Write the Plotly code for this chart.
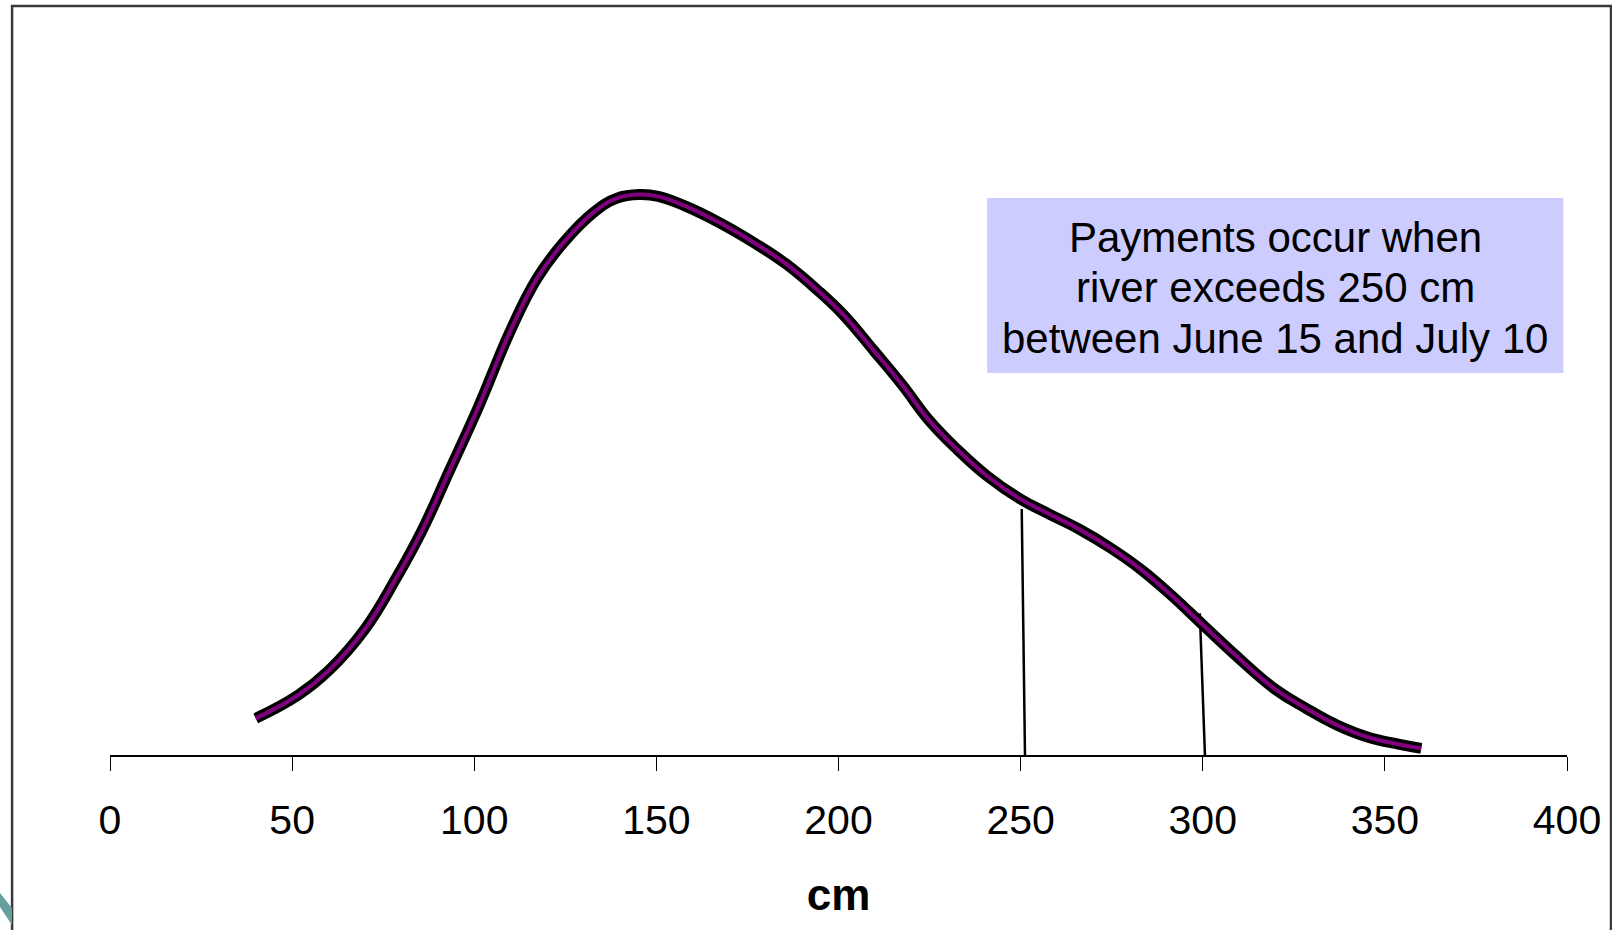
import plotly.graph_objects as go

# Curve (river level distribution)
curve_x = [40, 51.7, 60.1, 70, 78.5, 85.5, 93.2, 101, 110, 117.2, 124.5, 132.7, 139.2, 145.4,
           150.5, 157.5, 167.4, 177.3, 185.7, 194.2, 201.3, 209.7, 217.6, 224.7, 232.3, 240.8,
           250.1, 257.7, 266.2, 274.7, 283.1, 291.6, 300, 308.5, 319.8, 328.3, 336.8, 345.2,
           353.7, 360]
curve_y = [0.061, 0.100, 0.141, 0.21, 0.294, 0.372, 0.474, 0.578, 0.708, 0.794, 0.854, 0.904,
           0.928, 0.934, 0.931, 0.916, 0.887, 0.852, 0.818, 0.775, 0.734, 0.674, 0.616, 0.559,
           0.511, 0.465, 0.426, 0.402, 0.376, 0.345, 0.309, 0.265, 0.217, 0.169, 0.110, 0.078,
           0.050, 0.030, 0.018, 0.011]

# Vertical marker lines (x bottom/top, y top)
line1_x = [251.2, 250.3]
line1_y = [0.0, 0.41]
line2_x = [300.6, 299.2]
line2_y = [0.0, 0.236]

tick_vals = [0, 50, 100, 150, 200, 250, 300, 350, 400]
tick_text = ["0", "50", "100", "150", "200", "250", "300", "350", "400"]

note_lines = ["Payments occur when", "river exceeds 250 cm", "between June 15 and July 10"]

FONT = "Liberation Sans, Arial, sans-serif"

fig = go.Figure()
fig.add_trace(go.Scatter(x=line1_x, y=line1_y, mode="lines",
                         line=dict(color="black", width=2.5), hoverinfo="skip", showlegend=False))
fig.add_trace(go.Scatter(x=line2_x, y=line2_y, mode="lines",
                         line=dict(color="black", width=2.5), hoverinfo="skip", showlegend=False))
fig.add_trace(go.Scatter(x=curve_x, y=curve_y, mode="lines",
                         line=dict(color="black", width=11, shape="spline", smoothing=1.2),
                         showlegend=False))
fig.add_trace(go.Scatter(x=curve_x, y=curve_y, mode="lines",
                         line=dict(color="#800080", width=4, shape="spline", smoothing=1.2),
                         showlegend=False))

# Note box
fig.add_shape(type="rect", xref="x", yref="y", x0=240.8, x1=399.0, y0=0.6367, y1=0.9283,
              fillcolor="#CCCCFF", line=dict(width=0), layer="below")
for i, t in enumerate(note_lines):
    fig.add_annotation(x=319.9, y=0.8625 - 0.0838 * i, xref="x", yref="y", text=t,
                       showarrow=False, font=dict(family=FONT, size=42, color="black"),
                       xanchor="center", yanchor="middle")

# Slide border and corner decoration
fig.add_shape(type="rect", xref="paper", yref="paper", x0=-0.0672, x1=1.0302, y0=-0.4, y1=1.2483,
              line=dict(color="#3a3a3a", width=2.5), fillcolor="rgba(0,0,0,0)")
fig.add_shape(type="path", xref="paper", yref="paper",
              path="M -0.0755 -0.23 L -0.0673 -0.255 L -0.0673 -0.2833 L -0.0755 -0.2533 Z",
              fillcolor="#65A09E", line=dict(width=0))

fig.update_layout(
    width=1612, height=930,
    margin=dict(l=110, r=45, t=155, b=175),
    paper_bgcolor="white", plot_bgcolor="white",
    font=dict(family=FONT, color="black"),
    xaxis=dict(range=[0, 400], tickvals=tick_vals, ticktext=tick_text, showgrid=False,
               zeroline=False, showline=True, linecolor="black", linewidth=1.5,
               ticks="outside", ticklen=14, tickwidth=1, tickcolor="black",
               tickfont=dict(family=FONT, size=41, color="black"), ticklabelstandoff=14,
               title=dict(text="<b>cm</b>", font=dict(family=FONT, size=44, color="black"),
                          standoff=37)),
    yaxis=dict(range=[0, 1], visible=False, showgrid=False, zeroline=False),
)

fig.write_html("out.html")
